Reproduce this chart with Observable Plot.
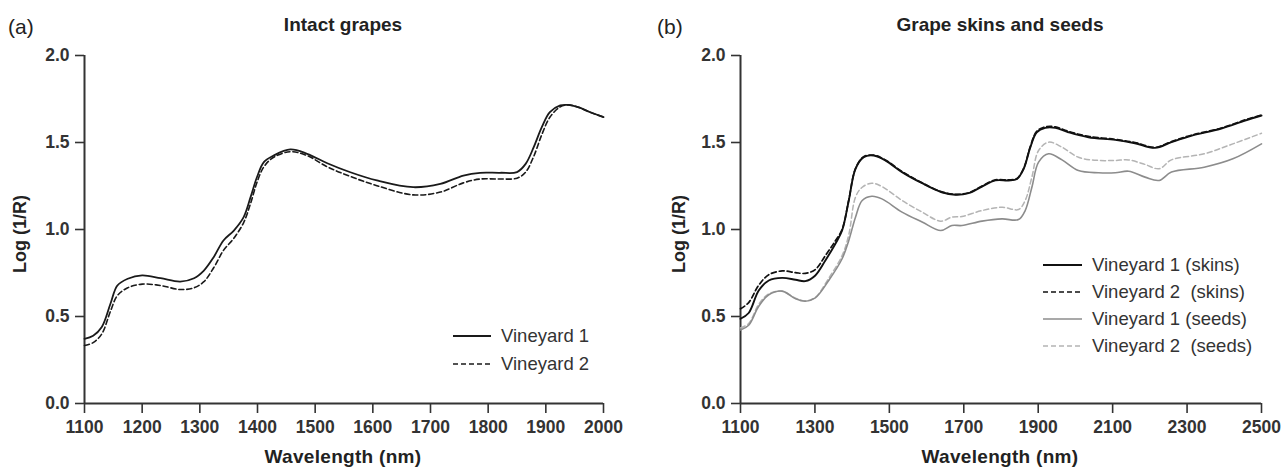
<!DOCTYPE html>
<html>
<head>
<meta charset="utf-8">
<script src="https://cdn.jsdelivr.net/npm/d3@7"></script>
<script src="https://cdn.jsdelivr.net/npm/@observablehq/plot@0.6"></script>
<style>
  html, body { margin: 0; padding: 0; background: #fff; }
  #root { position: relative; width: 1281px; height: 470px; overflow: hidden;
          font-family: "Liberation Sans", Arial, Helvetica, sans-serif; color: #222; }
  .abs { position: absolute; white-space: nowrap; }
  .title { font-weight: bold; font-size: 19px; transform: translate(-50%, -50%); }
  .tag { font-size: 21px; transform: translate(0, -50%); }
  .xlab { font-weight: bold; font-size: 19px; letter-spacing: 0.3px; transform: translate(-50%, -50%); }
  .ylab { font-weight: bold; font-size: 18px; transform: translate(-50%, -50%) rotate(-90deg); }
  .leg { font-size: 18.5px; color: #333; transform: translate(0, -50%); display: flex; align-items: center; }
  .leg svg { margin-right: 10px; }
  .panel { position: absolute; top: 40px; }
</style>
</head>
<body>
<div id="root"></div>
<script>
// ---------- Data: panel (a) Intact grapes ----------
const wlA = [1100, 1115, 1130, 1145, 1157, 1175, 1200, 1232, 1266, 1290, 1307, 1324, 1341, 1359, 1376, 1388, 1399, 1411, 1428, 1457, 1486, 1521, 1561, 1607, 1670, 1717, 1757, 1786, 1821, 1850, 1865, 1879, 1893, 1907, 1925, 1939, 1956, 1977, 2000];
const vineyard1A = [0.372, 0.39, 0.44, 0.573, 0.678, 0.717, 0.736, 0.72, 0.701, 0.72, 0.764, 0.841, 0.937, 0.994, 1.071, 1.186, 1.30, 1.387, 1.425, 1.46, 1.435, 1.381, 1.329, 1.282, 1.243, 1.262, 1.31, 1.326, 1.326, 1.33, 1.377, 1.473, 1.588, 1.674, 1.713, 1.716, 1.703, 1.674, 1.646];
const vineyard2A = [0.333, 0.35, 0.40, 0.53, 0.62, 0.665, 0.686, 0.678, 0.655, 0.665, 0.70, 0.78, 0.88, 0.95, 1.04, 1.15, 1.27, 1.36, 1.415, 1.447, 1.425, 1.36, 1.305, 1.252, 1.199, 1.215, 1.268, 1.29, 1.29, 1.295, 1.33, 1.42, 1.545, 1.645, 1.705, 1.716, 1.703, 1.674, 1.646];
const xTicksA = [1100, 1200, 1300, 1400, 1500, 1600, 1700, 1800, 1900, 2000];

// ---------- Data: panel (b) Grape skins and seeds ----------
const wlSkins = [1100, 1122, 1149, 1176, 1212, 1248, 1274, 1301, 1328, 1355, 1373, 1391, 1409, 1431, 1458, 1489, 1534, 1588, 1641, 1677, 1713, 1749, 1785, 1820, 1843, 1861, 1879, 1896, 1919, 1946, 1981, 2035, 2107, 2160, 2214, 2258, 2313, 2390, 2456, 2500];
const skinsV1 = [0.487, 0.52, 0.649, 0.707, 0.722, 0.711, 0.703, 0.736, 0.822, 0.918, 0.994, 1.167, 1.349, 1.416, 1.425, 1.397, 1.33, 1.266, 1.214, 1.2, 1.209, 1.247, 1.282, 1.282, 1.29, 1.349, 1.473, 1.559, 1.584, 1.584, 1.559, 1.53, 1.515, 1.496, 1.469, 1.502, 1.54, 1.579, 1.626, 1.655];
const skinsV2 = [0.544, 0.58, 0.68, 0.74, 0.762, 0.752, 0.748, 0.77, 0.85, 0.935, 1.0, 1.17, 1.35, 1.418, 1.427, 1.4, 1.333, 1.268, 1.216, 1.202, 1.211, 1.25, 1.285, 1.285, 1.293, 1.352, 1.478, 1.564, 1.59, 1.59, 1.564, 1.535, 1.518, 1.5, 1.472, 1.505, 1.543, 1.582, 1.63, 1.658];
const wlSeeds = [1100, 1122, 1149, 1176, 1212, 1248, 1274, 1301, 1337, 1373, 1391, 1409, 1427, 1453, 1480, 1534, 1588, 1638, 1668, 1695, 1749, 1803, 1847, 1865, 1883, 1901, 1928, 1964, 2008, 2062, 2107, 2143, 2187, 2225, 2258, 2346, 2423, 2500];
const seedsV1 = [0.423, 0.45, 0.559, 0.625, 0.646, 0.602, 0.588, 0.607, 0.707, 0.832, 0.937, 1.071, 1.167, 1.191, 1.176, 1.1, 1.043, 0.994, 1.023, 1.023, 1.048, 1.061, 1.057, 1.109, 1.243, 1.387, 1.435, 1.4, 1.339, 1.326, 1.326, 1.335, 1.301, 1.282, 1.33, 1.358, 1.406, 1.492];
const seedsV2 = [0.434, 0.46, 0.57, 0.63, 0.645, 0.605, 0.59, 0.61, 0.72, 0.85, 0.97, 1.186, 1.243, 1.266, 1.247, 1.167, 1.1, 1.048, 1.071, 1.075, 1.109, 1.128, 1.115, 1.167, 1.301, 1.454, 1.502, 1.473, 1.415, 1.397, 1.397, 1.4, 1.374, 1.349, 1.40, 1.435, 1.492, 1.553];
const xTicksB = [1100, 1300, 1500, 1700, 1900, 2100, 2300, 2500];

const yTicks = [0, 0.5, 1.0, 1.5, 2.0];
const legendA = ["Vineyard 1", "Vineyard 2"];
const legendB = ["Vineyard 1 (skins)", "Vineyard 2  (skins)", "Vineyard 1 (seeds)", "Vineyard 2  (seeds)"];

// ---------- Styles ----------
const styleA = [
  {stroke: "#1a1a1a", strokeWidth: 1.8, dash: null},
  {stroke: "#1a1a1a", strokeWidth: 1.6, dash: "5,3"}
];
const styleB = [
  {stroke: "#111", strokeWidth: 1.9, dash: null},
  {stroke: "#111", strokeWidth: 1.7, dash: "5,3"},
  {stroke: "#8c8c8c", strokeWidth: 1.6, dash: null},
  {stroke: "#b4b4b4", strokeWidth: 1.5, dash: "5,3"}
];

const toRows = (wl, vals) => wl.map((w, i) => ({w, v: vals[i]}));
const fontFam = '"Liberation Sans", Arial, Helvetica, sans-serif';

function panel({width, marginLeft, marginRight, xDomain, xTicks, series}) {
  return Plot.plot({
    width, height: 430,
    marginTop: 15, marginBottom: 67, marginLeft, marginRight,
    style: {fontFamily: fontFam, fontSize: "17.5px", fontWeight: "bold", color: "#333", background: "transparent", overflow: "visible"},
    x: {domain: xDomain},
    y: {domain: [0, 2]},
    marks: [
      Plot.axisX({ticks: xTicks, tickSize: 10, tickPadding: 7, strokeWidth: 1.6, label: null, tickFormat: d => String(d)}),
      Plot.axisY({ticks: yTicks, tickSize: 9, tickPadding: 6, strokeWidth: 1.6, label: null, tickFormat: d3.format(".1f")}),
      Plot.ruleX([xDomain[0]], {stroke: "#333", strokeWidth: 2}),
      Plot.ruleY([0], {stroke: "#333", strokeWidth: 2}),
      ...series.map(s => Plot.line(s.rows, {
        x: "w", y: "v", curve: "catmull-rom",
        stroke: s.style.stroke, strokeWidth: s.style.strokeWidth,
        strokeDasharray: s.style.dash || undefined
      }))
    ]
  });
}

const root = document.getElementById("root");

const plotA = panel({
  width: 640, marginLeft: 84, marginRight: 37,
  xDomain: [1100, 2000], xTicks: xTicksA,
  series: [
    {rows: toRows(wlA, vineyard1A), style: styleA[0]},
    {rows: toRows(wlA, vineyard2A), style: styleA[1]}
  ]
});
const wrapA = document.createElement("div");
wrapA.className = "panel"; wrapA.style.left = "0px";
wrapA.appendChild(plotA);
root.appendChild(wrapA);

const plotB = panel({
  width: 641, marginLeft: 100, marginRight: 20,
  xDomain: [1100, 2500], xTicks: xTicksB,
  series: [
    {rows: toRows(wlSeeds, seedsV2), style: styleB[3]},
    {rows: toRows(wlSeeds, seedsV1), style: styleB[2]},
    {rows: toRows(wlSkins, skinsV1), style: styleB[0]},
    {rows: toRows(wlSkins, skinsV2), style: styleB[1]}
  ]
});
const wrapB = document.createElement("div");
wrapB.className = "panel"; wrapB.style.left = "640px";
wrapB.appendChild(plotB);
root.appendChild(wrapB);

function addText(cls, text, x, y) {
  const d = document.createElement("div");
  d.className = "abs " + cls;
  d.style.left = x + "px"; d.style.top = y + "px";
  d.textContent = text;
  root.appendChild(d);
  return d;
}

addText("tag", "(a)", 8, 27);
addText("tag", "(b)", 657, 27);
addText("title", "Intact grapes", 343, 25);
addText("title", "Grape skins and seeds", 1000, 25);
addText("xlab", "Wavelength (nm)", 343, 457);
addText("xlab", "Wavelength (nm)", 1000, 457);
addText("ylab", "Log (1/R)", 20, 234);
addText("ylab", "Log (1/R)", 679, 234);

function addLegend(labels, styles, x, y0, dy, lineW) {
  labels.forEach((lab, i) => {
    const d = document.createElement("div");
    d.className = "abs leg";
    d.style.left = x + "px"; d.style.top = (y0 + i * dy) + "px";
    const s = styles[i];
    d.innerHTML = `<svg width="${lineW}" height="6"><line x1="0" x2="${lineW}" y1="3" y2="3" stroke="${s.stroke}" stroke-width="${s.strokeWidth}" ${s.dash ? `stroke-dasharray="${s.dash}"` : ""}/></svg><span style="white-space:pre">${lab}</span>`;
    root.appendChild(d);
  });
}
addLegend(legendA, styleA, 453, 336, 28, 38);
addLegend(legendB, styleB, 1043, 265, 27, 39);
</script>
</body>
</html>
